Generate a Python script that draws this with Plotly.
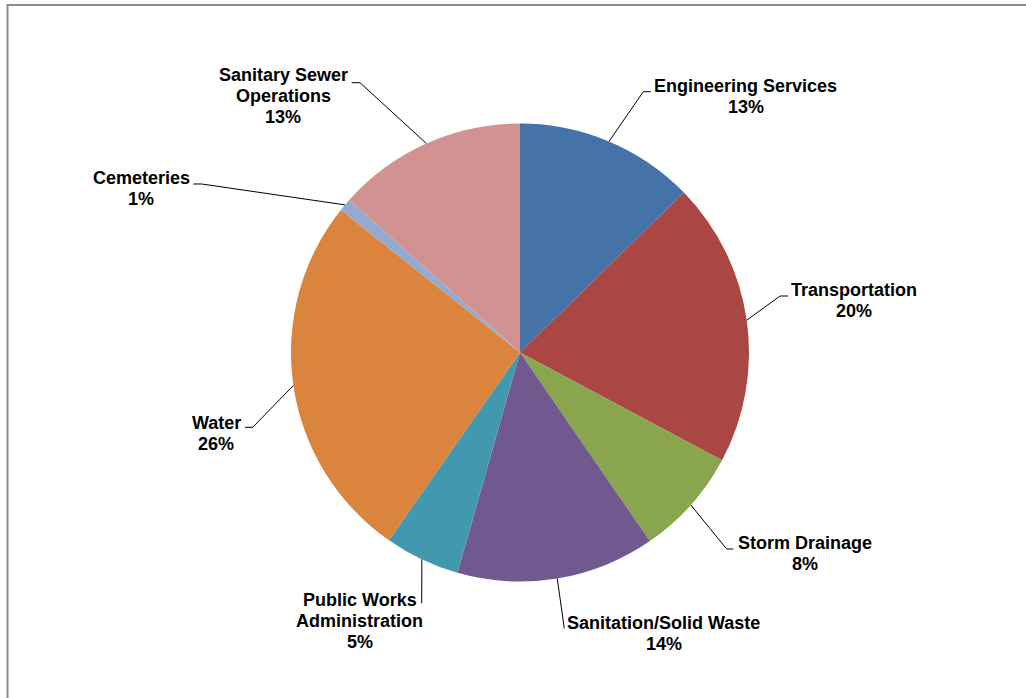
import math
import plotly.graph_objects as go

# Budget share by division (percent of total)
categories = [
    "Engineering Services",
    "Transportation",
    "Storm Drainage",
    "Sanitation/Solid Waste",
    "Public Works Administration",
    "Water",
    "Cemeteries",
    "Sanitary Sewer Operations",
]
values = [12.7, 20.1, 7.6, 14.0, 5.3, 26.0, 0.9, 13.4]
colors = ["#4572A7", "#AA4643", "#89A54E", "#71588F",
          "#4198AF", "#DB843D", "#93A9CF", "#D19392"]

# How each category name wraps in its label
label_lines = {
    "Public Works Administration": ["Public Works", "Administration"],
    "Sanitary Sewer Operations": ["Sanitary Sewer", "Operations"],
}

W, H = 1026, 698
CX, CY, R = 520.0, 352.5, 229.0

# Label placement in pixels: (center x, first line y), leader bend and end points
label_pos = {
    "Engineering Services": (745.5, 86.0),
    "Transportation": (853.5, 290.0),
    "Storm Drainage": (804.5, 543.0),
    "Sanitation/Solid Waste": (663.7, 623.0),
    "Public Works Administration": (359.5, 600.0),
    "Water": (216.0, 422.7),
    "Cemeteries": (141.0, 177.8),
    "Sanitary Sewer Operations": (283.0, 75.0),
}
leader_pts = {
    "Engineering Services": [(643.3, 91.7), (650.7, 91.7)],
    "Transportation": [(780.0, 296.0), (788.3, 296.0)],
    "Storm Drainage": [(726.7, 549.0), (733.3, 549.0)],
    "Sanitation/Solid Waste": [(564.3, 628.3)],
    "Public Works Administration": [(421.7, 603.3)],
    "Water": [(252.7, 427.3), (245.0, 427.3)],
    "Cemeteries": [(201.7, 184.0), (193.3, 184.0)],
    "Sanitary Sewer Operations": [(360.0, 82.7), (351.7, 82.7)],
}
LINE_STEP = 20.8


def px(x):
    return x / W


def py(y):
    return 1 - y / H


fig = go.Figure(go.Pie(
    labels=categories,
    values=values,
    sort=False,
    direction="clockwise",
    rotation=0,
    textinfo="none",
    hoverinfo="label+percent",
    marker=dict(colors=colors, line=dict(width=0)),
    domain=dict(x=[px(CX - R), px(CX + R)], y=[py(CY + R), py(CY - R)]),
    showlegend=False,
))

total = sum(values)
annotations = []
shapes = []
cum = 0.0
for name, v in zip(categories, values):
    mid = (cum + v / 2) / total * 2 * math.pi
    cum += v
    sx = CX + R * math.sin(mid)
    sy = CY - R * math.cos(mid)
    pts = [(sx, sy)] + leader_pts[name]
    path = "M " + " L ".join(f"{px(x):.5f},{py(y):.5f}" for x, y in pts)
    shapes.append(dict(type="path", xref="paper", yref="paper", path=path,
                       line=dict(color="#000000", width=1)))

    lx, ly = label_pos[name]
    lines = label_lines.get(name, [name]) + [f"{round(v / total * 100)}%"]
    for i, t in enumerate(lines):
        annotations.append(dict(
            x=px(lx), y=py(ly + i * LINE_STEP), xref="paper", yref="paper",
            text=t, showarrow=False, xanchor="center", yanchor="middle",
            font=dict(family="Liberation Sans, Arial, sans-serif", size=18,
                      color="#000000", weight="bold"),
        ))

# Chart-area frame
shapes.append(dict(type="rect", xref="paper", yref="paper",
                   x0=px(7.5), y0=py(760), x1=px(1090), y1=py(5),
                   line=dict(color="#8c8c8c", width=2), layer="above"))

fig.update_layout(
    width=W, height=H,
    margin=dict(l=0, r=0, t=0, b=0),
    paper_bgcolor="#ffffff",
    plot_bgcolor="#ffffff",
    annotations=annotations,
    shapes=shapes,
)

fig.write_html("out.html")
